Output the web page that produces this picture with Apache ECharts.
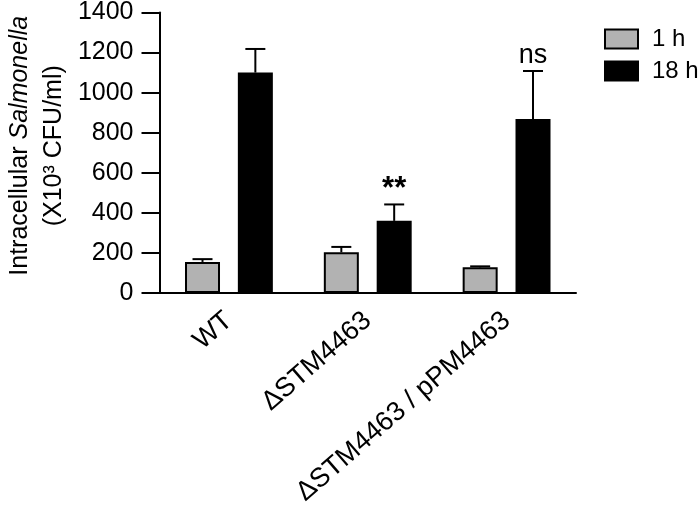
<!DOCTYPE html>
<html>
<head>
<meta charset="utf-8">
<script src="https://cdn.jsdelivr.net/npm/echarts@6/dist/echarts.min.js"></script>
<style>html,body{margin:0;padding:0;background:#fff;}#c{width:700px;height:513px;}</style>
</head>
<body>
<div id="c"></div>
<script>
var categories = ['WT', '\u0394STM4463', '\u0394STM4463 / pPM4463'];
var mean1h = [155, 203, 128];
var err1h = [14, 27, 5];
var mean18h = [1100, 360, 868];
var err18h = [118, 82, 240];
var annotations = ['', '**', 'ns'];
var seriesNames = ['1 h', '18 h'];
var yTicks = [0, 200, 400, 600, 800, 1000, 1200, 1400];

var FONT = '"Liberation Sans", Arial, sans-serif';
var BAR_W = 35;
var BAR_GAP = 0.51;
var OFFSET = (BAR_W + BAR_W * BAR_GAP) / 2;

var errData = [];
for (var i = 0; i < categories.length; i++) {
  errData.push([i, mean1h[i], err1h[i], -1]);
  errData.push([i, mean18h[i], err18h[i], 1]);
}

function renderErr(params, api) {
  var ci = api.value(0), m = api.value(1), e = api.value(2), side = api.value(3);
  var base = api.coord([ci, m]);
  var top = api.coord([ci, m + e]);
  var x = base[0] + side * OFFSET;
  var children = [
    {type: 'line', shape: {x1: x, y1: base[1], x2: x, y2: top[1]}, style: {stroke: '#000', lineWidth: 2}},
    {type: 'line', shape: {x1: x - 10, y1: top[1], x2: x + 10, y2: top[1]}, style: {stroke: '#000', lineWidth: 2}}
  ];
  var ann = side > 0 ? annotations[ci] : '';
  if (ann === '**') {
    children.push({type: 'text', style: {text: ann, x: x, y: top[1] + 1, align: 'center', verticalAlign: 'bottom', fontSize: 31, fontWeight: 'bold', fontFamily: FONT, fill: '#000'}});
  } else if (ann) {
    children.push({type: 'text', style: {text: ann, x: x, y: top[1] - 2, align: 'center', verticalAlign: 'bottom', fontSize: 27, fontFamily: FONT, fill: '#000'}});
  }
  return {type: 'group', children: children};
}

var chart = echarts.init(document.getElementById('c'), null, {renderer: 'canvas'});
chart.setOption({
  animation: false,
  backgroundColor: '#fff',
  textStyle: {fontFamily: FONT, color: '#000'},
  grid: {left: 153, right: 124, top: 11, bottom: 220, containLabel: false},
  legend: {
    left: 599, top: 22, orient: 'vertical',
    itemWidth: 33, itemHeight: 19, itemGap: 8,
    icon: 'rect',
    data: seriesNames,
    textStyle: {fontSize: 24, color: '#000', fontFamily: FONT, lineHeight: 20, padding: [0, 0, 0, 9]}
  },
  xAxis: {
    type: 'category',
    data: categories,
    axisLine: {lineStyle: {color: '#000', width: 2}},
    axisTick: {alignWithLabel: true, length: 14, lineStyle: {color: '#000', width: 2}},
    axisLabel: {interval: 0, rotate: 41, margin: 24, fontSize: 27, color: '#000', fontFamily: FONT}
  },
  yAxis: {
    type: 'value', min: 0, max: 1400, interval: 200,
    splitLine: {show: false},
    axisLine: {show: true, lineStyle: {color: '#000', width: 2}},
    axisTick: {show: true, length: 18, lineStyle: {color: '#000', width: 2}},
    axisLabel: {margin: 26, fontSize: 25, color: '#000', fontFamily: FONT,
      formatter: function (v) { return yTicks.indexOf(v) >= 0 ? String(v) : ''; }},
    name: '{a|Intracellular }{b|Salmonella}\n{a|(X10\u00b3 CFU/ml)}',
    nameLocation: 'middle', nameRotate: 90, nameGap: 88,
    nameTextStyle: {
      padding: [0, 0, 0, 14],
      rich: {
        a: {fontSize: 25, lineHeight: 34, fontFamily: FONT, color: '#000'},
        b: {fontSize: 25, lineHeight: 34, fontFamily: FONT, color: '#000', fontStyle: 'italic'}
      }
    }
  },
  series: [
    {name: seriesNames[0], type: 'bar', data: mean1h, barWidth: BAR_W, barGap: (BAR_GAP * 100) + '%',
     itemStyle: {color: '#b2b2b2', borderColor: '#000', borderWidth: 2}},
    {name: seriesNames[1], type: 'bar', data: mean18h, barWidth: BAR_W,
     itemStyle: {color: '#000', borderColor: '#000', borderWidth: 2}},
    {type: 'custom', data: errData, renderItem: renderErr, z: 5, silent: true,
     encode: {x: 0, y: 1}}
  ]
});
</script>
</body>
</html>
